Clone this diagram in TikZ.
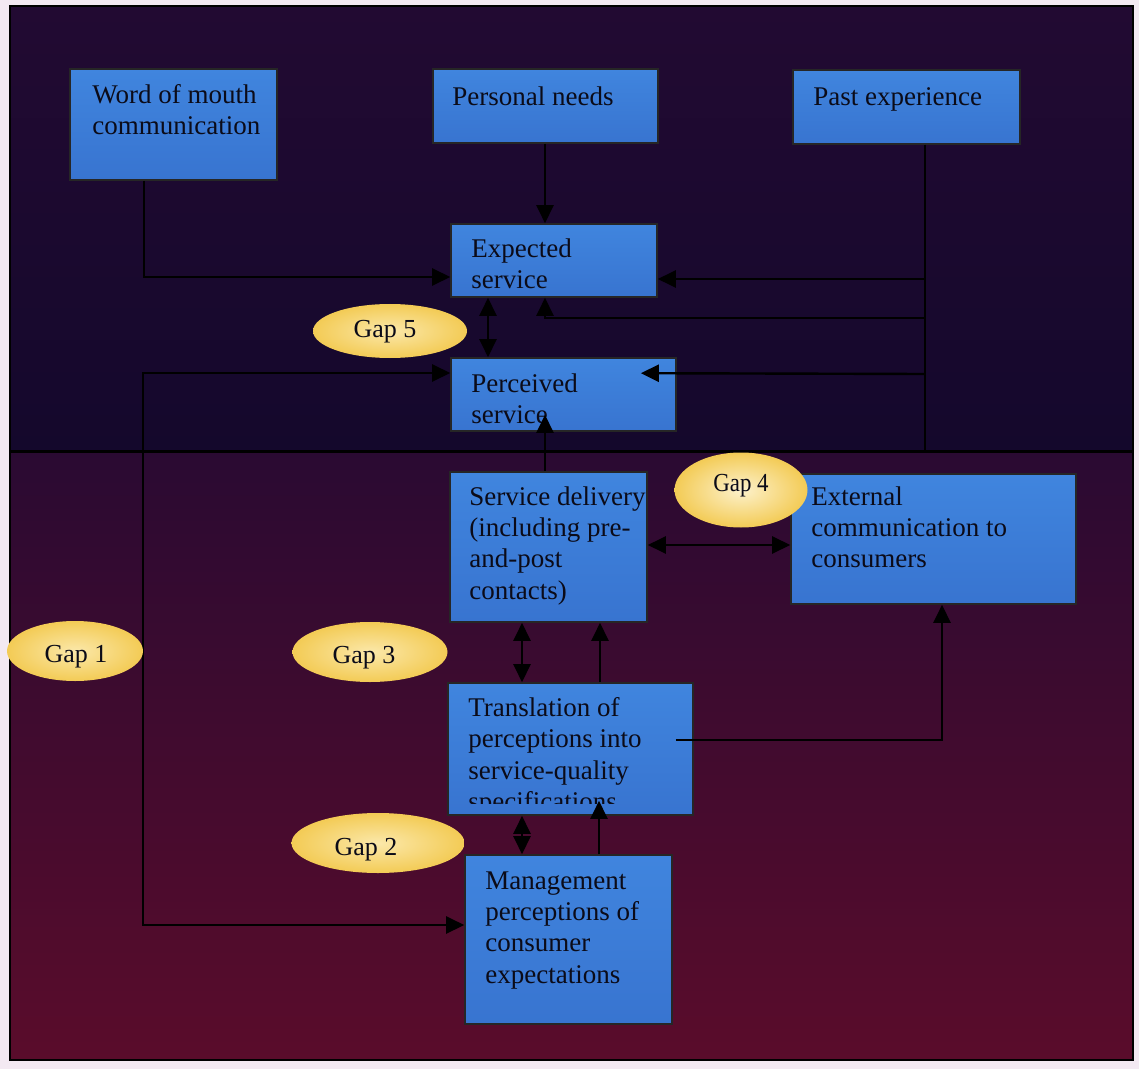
\documentclass[tikz,border=0pt]{standalone}
\usepackage{fontspec}
\usepackage{graphicx}
\setmainfont{Liberation Serif}
\usetikzlibrary{arrows.meta,calc,fit,shapes.geometric}

\definecolor{margin}{HTML}{F3E9F2}
\definecolor{paneltop}{HTML}{220A32}
\definecolor{navy}{HTML}{0D0828}
\definecolor{navylow}{HTML}{14082C}
\definecolor{plumlow}{HTML}{2A0A32}
\definecolor{maroon}{HTML}{5A0C2B}
\definecolor{boxtop}{HTML}{4085DE}
\definecolor{boxbot}{HTML}{3874D0}
\definecolor{gapin}{HTML}{FBE8AA}
\definecolor{gapout}{HTML}{F3CB55}
\definecolor{ink}{HTML}{0B0B18}

\tikzset{
  >={Triangle[length=9pt,width=8.5pt]},
  box/.style={draw=black!85, line width=0.8pt, top color=boxtop, bottom color=boxbot, inner sep=0pt},
  lbl/.style={font=\fontsize{13.5}{15.7}\selectfont, text=ink, align=left, inner sep=0pt, anchor=north west},
  gap/.style={ellipse, inner color=gapin, outer color=gapout, inner sep=0pt},
  gaplbl/.style={font=\fontsize{13}{15}\selectfont, text=ink, inner sep=0pt},
  conn/.style={draw=black, line width=1.2pt},
}

% text of a box, clipped to the inside of the box
\newcommand\boxtext[5]{%
  \begin{scope}
    \clip (#1.north west) rectangle ($(#1.south east)+(0,-#2)$);
    \node[lbl] (#1-t) at (#3,#4) {#5};
  \end{scope}}

\begin{document}
\begin{tikzpicture}[x=0.5pt,y=-0.5pt]
  \useasboundingbox (0,0) rectangle (1139,1069);
  \fill[margin] (0,0) rectangle (1139,1069);

  % dark panel
  \shade[top color=paneltop, middle color=navy, bottom color=navylow] (10,6) rectangle (1133,451);
  \shade[top color=plumlow, bottom color=maroon] (10,451) rectangle (1133,1060);
  \draw[line width=1.2pt, black] (10,6) rectangle (1133,1060);

  % dividing line
  \coordinate (sepL) at (10,451);
  \coordinate (sepR) at (1133,451);
  \draw[line width=1.5pt, black] (sepL) -- (sepR);

  % boxes
  \node[box, fit={(70,69) (277,180)}] (wom) {};
  \node[box, fit={(433,69) (658,143)}] (pn) {};
  \node[box, fit={(793,70) (1020,144)}] (past) {};
  \node[box, fit={(451,224) (657,297)}] (exp) {};
  \node[box, fit={(451,358) (676,431)}] (perc) {};
  \node[box, fit={(450,472) (647,622)}] (sd) {};
  \node[box, fit={(791,474) (1076,604)}] (ext) {};
  \node[box, fit={(448,683) (693,815)}] (tr) {};
  \node[box, fit={(465,855) (672,1024)}] (mg) {};

  \boxtext{wom}{8}{92}{84}{Word of mouth\\communication}
  \boxtext{pn}{8}{452}{86}{Personal needs}
  \boxtext{past}{8}{813}{87}{Past experience}
  \boxtext{exp}{6}{471}{238}{Expected\\service}
  \boxtext{perc}{8}{471}{373}{Perceived\\service}
  \boxtext{sd}{8}{469}{486}{Service delivery\\(including pre-\\and-post\\contacts)}
  \boxtext{ext}{8}{811}{486}{External\\communication to\\consumers}
  \boxtext{tr}{12}{468}{697}{Translation of\\perceptions into\\service-quality\\specifications}
  \boxtext{mg}{8}{485}{871}{Management\\perceptions of\\consumer\\expectations}

  % consumer side
  \draw[conn,->] (144,0 |- wom.south) |- (exp.west |- 0,277);
  \draw[conn,->] (545,0 |- pn.south) -- (545,0 |- exp.north);
  \draw[conn,->] (925,0 |- past.south) |- (exp.east |- 0,279);
  \draw[conn] (925,0 |- past.south) -- (925,0 |- sepR);
  \coordinate (trunkA) at (925,318);
  \coordinate (trunkB) at (925,374);
  \draw[conn,->] (trunkA) -| (545,0 |- exp.south);
  \draw[conn,->] (trunkB) -- ($(perc.north east)+(-36,16)$);
  \draw[conn,<->] (488,0 |- exp.south) -- (488,0 |- perc.north);

  % marketer side
  \draw[conn,->] (545,0 |- sd.north) -- ($(545,0 |- perc.south)+(0,-17)$);
  \coordinate (loop) at (143,925);
  \draw[conn,<->] (perc.west |- 0,373) -| (loop) -- (mg.west |- loop);
  \draw[conn,<->] (sd.east |- 0,545) -- (ext.west |- 0,545);
  \draw[conn,<->] (522,0 |- sd.south) -- (522,0 |- tr.north);
  \draw[conn,->] (600,0 |- tr.north) -- (600,0 |- sd.south);
  \draw[conn,->] ($(tr.east |- 0,740)+(-18,0)$) -| (942,0 |- ext.south);
  \draw[conn,<->] (522,0 |- tr.south) -- (522,0 |- mg.north);
  \draw[conn,->] (599,0 |- mg.north) -- ($(599,0 |- tr.south)+(0,-15)$);

  % gaps
  \node[gap, minimum width=77pt, minimum height=27pt] (g5) at (390,331) {};
  \node[gaplbl] (g5-t) at (385,332) {Gap 5};
  \node[gap, minimum width=66.5pt, minimum height=37.5pt, inner color=white!40!gapin] (g4) at (741,490) {};
  \node[gaplbl] (g4-t) at (741,486) {\scalebox{0.88}[1]{Gap 4}};
  \node[gap, minimum width=68pt, minimum height=30pt] (g1) at (75,651) {};
  \node[gaplbl] (g1-t) at (76,657) {Gap 1};
  \node[gap, minimum width=77.5pt, minimum height=30pt] (g3) at (370,652) {};
  \node[gaplbl] (g3-t) at (364,658) {Gap 3};
  \node[gap, minimum width=86.5pt, minimum height=30pt] (g2) at (378,843) {};
  \node[gaplbl] (g2-t) at (366,850) {Gap 2};
\end{tikzpicture}
\end{document}
